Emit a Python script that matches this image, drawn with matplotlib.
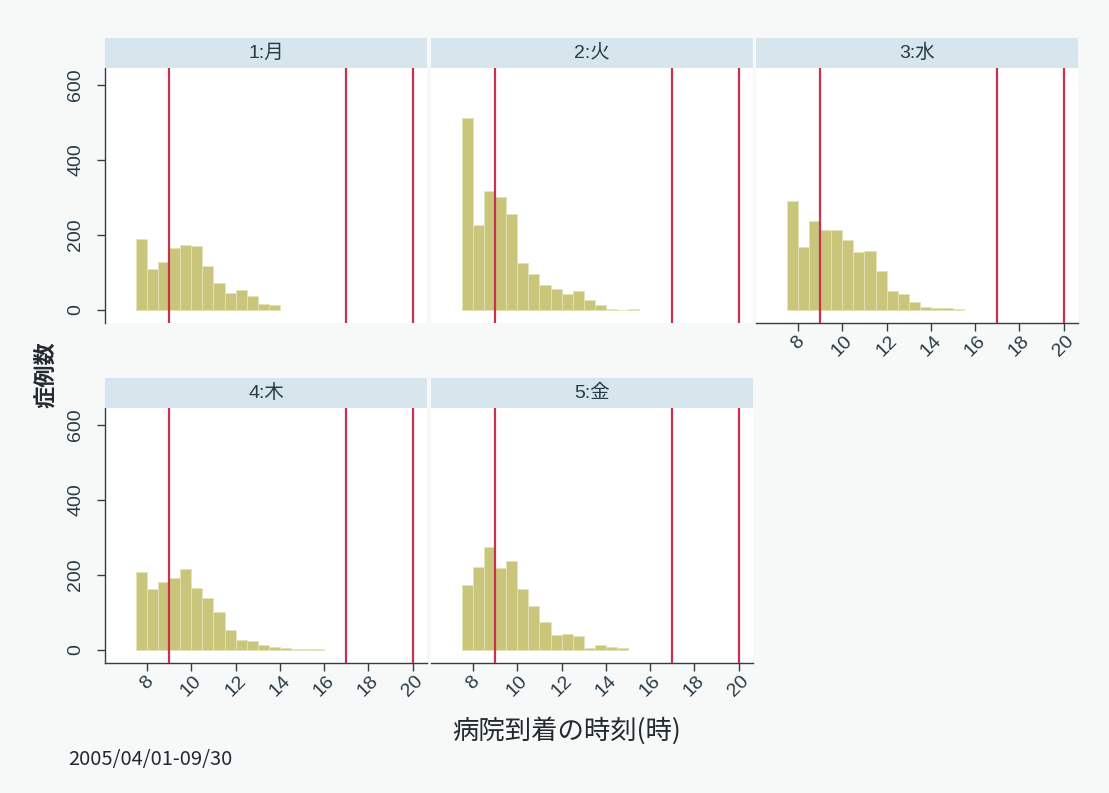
import numpy as np
import matplotlib
matplotlib.use("Agg")
import matplotlib.pyplot as plt

plt.rcParams['font.family'] = ['Liberation Sans', 'Noto Sans CJK JP', 'DejaVu Sans']

# Half-hour bins starting at 7:30
bin_start = 7.5
bin_width = 0.5

panel_titles = ["1:月", "2:火", "3:水", "4:木", "5:金"]

counts_mon = [189, 109, 127, 164, 173, 169, 118, 71, 44, 53, 36, 16, 14]
counts_tue = [512, 225, 318, 300, 256, 125, 96, 65, 56, 41, 49, 27, 14, 3, 0, 3]
counts_wed = [289, 167, 236, 213, 213, 187, 153, 156, 104, 49, 42, 20, 7, 4, 4, 2]
counts_thu = [209, 163, 180, 191, 216, 164, 138, 102, 52, 27, 24, 13, 7, 4, 3, 2, 2]
counts_fri = [172, 220, 274, 218, 238, 162, 116, 74, 40, 43, 38, 4, 13, 9, 4]
all_counts = [counts_mon, counts_tue, counts_wed, counts_thu, counts_fri]

ref_hours = [9, 17, 20]
x_ticks = [8, 10, 12, 14, 16, 18, 20]
y_ticks = [0, 200, 400, 600]

bar_color = '#c9c67c'
line_color = '#c5334f'
strip_color = '#d6e6ec'
text_color = '#2a3a44'

W, H = 1109, 793
fig = plt.figure(figsize=(W / 100, H / 100), dpi=100)
fig.patch.set_facecolor('#f7f9f9')

col_left = [105, 431, 756]
col_w = 322
row_top = [68, 408]
plot_h = 255
strip_h = 30

layout = [(0, 0), (0, 1), (0, 2), (1, 0), (1, 1)]

for i, (r, c) in enumerate(layout):
    left = col_left[c] / W
    bottom = 1 - (row_top[r] + plot_h) / H
    ax = fig.add_axes([left, bottom, col_w / W, plot_h / H])
    ax.set_facecolor('white')

    counts = all_counts[i]
    edges = bin_start + bin_width * np.arange(len(counts))
    ax.bar(edges, counts, width=bin_width, align='edge', color=bar_color,
           edgecolor='#e4e2b8', linewidth=0.6, zorder=2)
    for h in ref_hours:
        ax.axvline(h, color=line_color, linewidth=1.6, zorder=3)

    ax.set_xlim(6.1, 20.65)
    ax.set_ylim(-35, 645)

    for s in ['top', 'right']:
        ax.spines[s].set_visible(False)

    show_y = (c == 0)
    show_x = (r == 1) or (c == 2)

    ax.spines['left'].set_visible(show_y)
    ax.spines['bottom'].set_visible(show_x)
    for s in ['left', 'bottom']:
        ax.spines[s].set_color('#333d44')
        ax.spines[s].set_linewidth(1.0)

    if show_y:
        ax.set_yticks(y_ticks)
        ax.set_yticklabels([str(v) for v in y_ticks], rotation=90, va='center',
                           fontsize=14, color=text_color)
        ax.tick_params(axis='y', length=6, width=1, color='#333d44', pad=9)
    else:
        ax.set_yticks([])

    if show_x:
        ax.set_xticks(x_ticks)
        ax.set_xticklabels([str(v) for v in x_ticks], rotation=45,
                           ha='center', va='top', fontsize=14, color=text_color)
        ax.tick_params(axis='x', length=6, width=1, color='#333d44', pad=1)
    else:
        ax.set_xticks([])

    # facet strip
    sax = fig.add_axes([left, 1 - row_top[r] / H, col_w / W, strip_h / H])
    sax.set_facecolor(strip_color)
    sax.set_xticks([])
    sax.set_yticks([])
    for s in sax.spines.values():
        s.set_visible(False)
    sax.text(0.5, 0.5, panel_titles[i], ha='center', va='center',
             fontsize=14, color=text_color, transform=sax.transAxes)

fig.text(45 / W, 1 - 375 / H, "症例数", rotation=90, ha='center', va='center',
         fontsize=16, fontweight='bold', color='#222a30', family=['Noto Sans CJK JP'])
fig.text(567 / W, 1 - 731 / H, "病院到着の時刻(時)", ha='center', va='center',
         fontsize=19, color='#222a30', family=['Noto Sans CJK JP'])
fig.text(68 / W, 1 - 760 / H, "2005/04/01-09/30", ha='left', va='center',
         fontsize=14.5, color='#222a30', family=['Noto Sans CJK JP'])

fig.savefig("out.png", dpi=100, facecolor=fig.get_facecolor())
